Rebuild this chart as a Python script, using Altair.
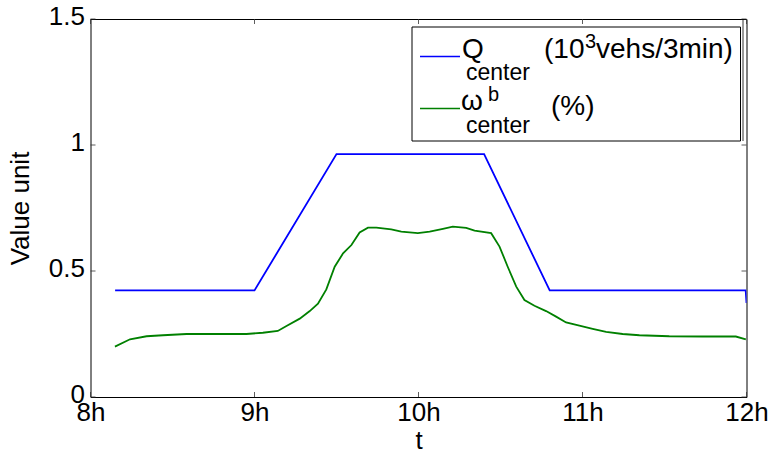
import altair as alt
import pandas as pd

# ---- data ----
q_t = [8.15, 9.0, 9.5, 10.4, 10.8, 11.995, 12.0]
q_v = [0.423, 0.423, 0.964, 0.964, 0.423, 0.423, 0.373]

w_t = [8.149, 8.241, 8.342, 8.442, 8.586, 8.951, 9.051, 9.142, 9.195, 9.276,
       9.337, 9.387, 9.438, 9.489, 9.540, 9.591, 9.641, 9.692, 9.743, 9.834,
       9.895, 9.996, 10.068, 10.149, 10.209, 10.291, 10.342, 10.443, 10.494,
       10.544, 10.596, 10.646, 10.707, 10.778, 10.839, 10.900, 10.981, 11.062,
       11.144, 11.245, 11.347, 11.529, 11.732, 11.935, 11.996]
w_v = [0.200, 0.229, 0.241, 0.245, 0.250, 0.250, 0.255, 0.262, 0.282, 0.311,
       0.341, 0.370, 0.427, 0.517, 0.570, 0.603, 0.653, 0.672, 0.672, 0.665,
       0.656, 0.650, 0.656, 0.667, 0.676, 0.671, 0.660, 0.650, 0.597,
       0.517, 0.438, 0.385, 0.362, 0.341, 0.319, 0.296, 0.283, 0.270,
       0.258, 0.250, 0.245, 0.241, 0.240, 0.240, 0.229]

x_ticks = [8, 9, 10, 11, 12]
y_ticks = [0, 0.5, 1, 1.5]

W, H = 656, 378
FONT = "Liberation Sans"

df = pd.concat([
    pd.DataFrame({"t": q_t, "v": q_v, "s": "Q"}),
    pd.DataFrame({"t": w_t, "v": w_v, "s": "w"}),
])

xscale = alt.Scale(domain=[8, 12], nice=False, zero=False)
yscale = alt.Scale(domain=[0, 1.5], nice=False)

lines = alt.Chart(df).mark_line(strokeWidth=1.8, clip=True).encode(
    x=alt.X("t:Q", scale=xscale,
            axis=alt.Axis(values=x_ticks, labelExpr="datum.value + 'h'",
                          ticks=False, domain=False, grid=False,
                          labelFont=FONT, labelFontSize=26, labelColor="black",
                          labelPadding=2, labelFlush=False,
                          title="t", titleFont=FONT, titleFontSize=26,
                          titleFontWeight="normal", titleColor="black",
                          titlePadding=2)),
    y=alt.Y("v:Q", scale=yscale,
            axis=alt.Axis(values=y_ticks, format="~g", ticks=False,
                          domain=False, grid=False,
                          labelFont=FONT, labelFontSize=26, labelColor="black",
                          labelPadding=6, labelFlush=False, labelOffset=-3,
                          title="Value unit", titleFont=FONT, titleFontSize=26,
                          titleFontWeight="normal", titleColor="black",
                          titlePadding=15)),
    color=alt.Color("s:N", scale=alt.Scale(domain=["Q", "w"],
                                           range=["#0000ff", "#008000"]),
                    legend=None),
)

xt = pd.DataFrame({"t": x_ticks})
yt = pd.DataFrame({"v": y_ticks})
tick_style = dict(color="#333333", strokeWidth=0.8)
xb = alt.Chart(xt).mark_rule(**tick_style).encode(
    x=alt.X("t:Q", scale=xscale), y=alt.value(H), y2=alt.value(H - 5))
xtop = alt.Chart(xt).mark_rule(**tick_style).encode(
    x=alt.X("t:Q", scale=xscale), y=alt.value(0), y2=alt.value(5))
yl = alt.Chart(yt).mark_rule(**tick_style).encode(
    y=alt.Y("v:Q", scale=yscale), x=alt.value(0), x2=alt.value(5))
yr = alt.Chart(yt).mark_rule(**tick_style).encode(
    y=alt.Y("v:Q", scale=yscale), x=alt.value(W), x2=alt.value(W - 5))

one = pd.DataFrame({"a": [0]})
OX, OY = 90.5, 19  # plot origin in page pixels


def rule(x1, y1, x2, y2, color="black", width=1.0):
    return alt.Chart(one).mark_rule(color=color, strokeWidth=width).encode(
        x=alt.value(x1 - OX), x2=alt.value(x2 - OX),
        y=alt.value(y1 - OY), y2=alt.value(y2 - OY))


def label(txt, x, y, size):
    return alt.Chart(one).mark_text(
        align="left", baseline="alphabetic", font=FONT, fontSize=size,
        color="black").encode(
        x=alt.value(x - OX), y=alt.value(y - OY), text=alt.value(txt))


box = alt.Chart(one).mark_rect(fill="white", stroke="black", strokeWidth=1).encode(
    x=alt.value(412 - OX), x2=alt.value(740.5 - OX),
    y=alt.value(27 - OY), y2=alt.value(141 - OY))

legend = [
    box,
    rule(743, 19, 743, 141, width=0.8),
    rule(420, 56.5, 460, 56.5, color="#0000ff", width=1.5),
    rule(420, 108.5, 460, 108.5, color="#008000", width=1.5),
    label("Q", 462, 58, 28),
    label("center", 466, 80, 23),
    label("(10", 544, 58, 28),
    label("3", 585, 48, 20),
    label("vehs/3min)", 596, 58, 28),
    label("\u03c9", 461, 110, 28),
    label("b", 488, 101, 20),
    label("center", 466, 133, 23),
    label("(%)", 551, 115, 28),
]

chart = alt.layer(lines, xb, xtop, yl, yr, *legend).properties(
    width=W, height=H,
    autosize=alt.AutoSizeParams(type="none"),
    padding={"left": 90.5, "top": 19, "right": 26, "bottom": 57},
    background="white",
).configure_view(stroke="black", strokeWidth=1)

chart.save("out.html", embed_options={"renderer": "svg", "actions": False})
